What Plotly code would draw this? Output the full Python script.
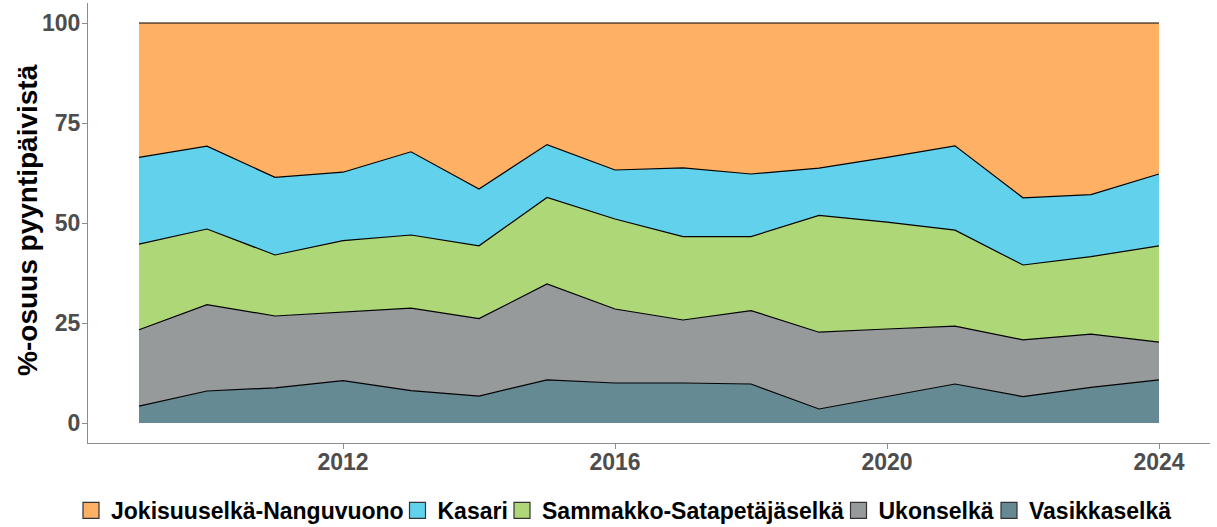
import plotly.graph_objects as go

years = list(range(2009, 2025))
vasikkaselka = [4.2, 8.0, 8.8, 10.6, 8.1, 6.7, 10.8, 10.0, 10.0, 9.75, 3.5, 6.6, 9.75, 6.6, 8.9, 10.8]
ukonselka = [19.1, 21.6, 17.95, 17.15, 20.6, 19.4, 23.95, 18.5, 15.75, 18.35, 19.2, 16.9, 14.45, 14.2, 13.3, 9.4]
sammakko = [21.4, 18.9, 15.25, 17.85, 18.3, 18.2, 21.65, 22.5, 20.85, 18.5, 29.2, 26.7, 24.0, 18.7, 19.4, 24.1]
kasari = [21.7, 20.7, 19.4, 17.1, 20.8, 14.2, 13.2, 12.25, 17.2, 15.65, 11.8, 16.2, 21.1, 16.8, 15.5, 17.95]
jokisuu = [33.6, 30.8, 38.6, 37.3, 32.2, 41.5, 30.4, 36.75, 36.2, 37.75, 36.3, 33.6, 30.7, 43.7, 42.9, 37.75]

names = ["Vasikkaselkä", "Ukonselkä", "Sammakko-Satapetäjäselkä", "Kasari", "Jokisuuselkä-Nanguvuono"]
series = [vasikkaselka, ukonselka, sammakko, kasari, jokisuu]
colors = ["#668A94", "#969A9B", "#AED777", "#62D2EC", "#FEB165"]

x_ticks = [2012, 2016, 2020, 2024]
y_ticks = [0, 25, 50, 75, 100]

FONT = "Liberation Sans, Arial, sans-serif"

fig = go.Figure()
for name, vals, col in zip(names, series, colors):
    fig.add_trace(go.Scatter(
        x=years, y=vals, name=name, mode="lines",
        stackgroup="one", groupnorm="percent",
        line=dict(color="black", width=1.2),
        fillcolor=col, showlegend=False,
    ))

# legend entries: one small legend per key, laid out in a row (left-to-right order)
legend_x = [-0.01515, 0.27585, 0.36898, 0.66890, 0.80303]
legend_ids = ["legend", "legend2", "legend3", "legend4", "legend5"]
for (name, col), lid in zip(reversed(list(zip(names, colors))), legend_ids):
    fig.add_trace(go.Scatter(
        x=[None], y=[None], name=name, mode="markers",
        marker=dict(symbol="square", size=16, color=col, line=dict(color="#333333", width=1.2)),
        showlegend=True, legend=lid,
    ))

axis_font = dict(family=FONT, size=23, color="#4D4D4D", weight="bold")
legend_font = dict(family=FONT, size=23, color="black", weight="bold")

legend_layouts = {}
for lid, lx in zip(legend_ids, legend_x):
    legend_layouts[lid] = dict(
        orientation="h", x=lx, xanchor="left", y=-0.1045, yanchor="top",
        font=legend_font, itemwidth=30, bgcolor="rgba(0,0,0,0)",
    )

fig.update_layout(
    width=1217, height=527,
    margin=dict(l=88, r=7, t=3, b=84, autoexpand=False),
    paper_bgcolor="white", plot_bgcolor="white",
    font=dict(family=FONT),
    xaxis=dict(
        range=[2008.25, 2024.75], tickvals=x_ticks,
        tickfont=axis_font, showgrid=False, zeroline=False, automargin=False,
        showline=True, linecolor="#8C8C8C", linewidth=1.2,
        ticks="outside", ticklen=5, tickcolor="#8C8C8C", tickwidth=1.2,
        ticklabelstandoff=-7,
    ),
    yaxis=dict(
        range=[-5, 105], tickvals=y_ticks,
        tickfont=axis_font, showgrid=False, zeroline=False, automargin=False,
        showline=True, linecolor="#8C8C8C", linewidth=1.2,
        ticks="outside", ticklen=5, tickcolor="#8C8C8C", tickwidth=1.2,
        ticklabelstandoff=-3,
    ),
    annotations=[dict(
        text="%-osuus pyyntipäivistä", textangle=-90,
        xref="paper", yref="paper", x=(28 - 88) / 1122, y=0.507,
        xanchor="center", yanchor="middle", showarrow=False,
        font=dict(family=FONT, size=28, color="black", weight="bold"),
    )],
    **legend_layouts,
)

fig.write_html("out.html", config={"displayModeBar": False},
               post_script="document.body.style.margin='0';")
